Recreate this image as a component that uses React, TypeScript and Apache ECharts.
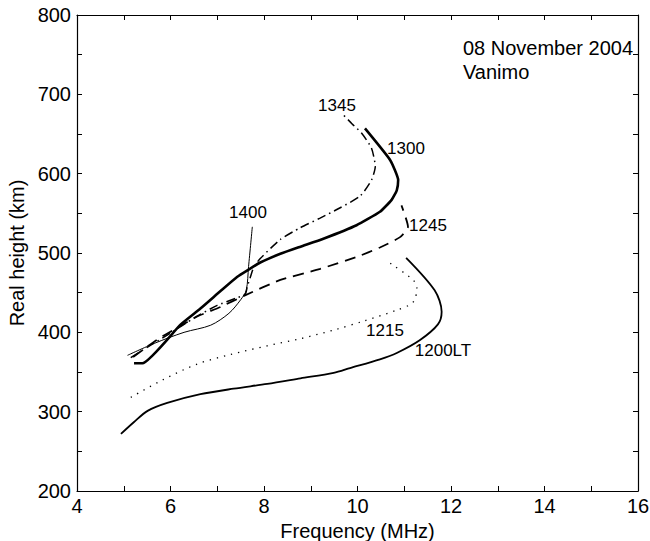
import React, { useEffect, useRef } from "react";
import * as echarts from "echarts";

const s1200: number[][] = [
  [4.94, 272], [5.22, 287], [5.51, 301], [5.93, 311], [6.64, 322], [7.35, 329],
  [8.07, 335], [8.78, 342], [9.49, 349], [9.84, 355], [10.48, 366], [10.84, 374],
  [11.33, 390], [11.72, 410], [11.8, 426], [11.65, 453], [11.04, 494],
];
const s1215: number[][] = [
  [5.15, 318], [5.83, 340], [6.57, 360], [7.28, 372], [8.07, 383], [8.78, 392],
  [9.56, 404], [10.12, 414], [10.84, 428], [11.19, 438], [11.27, 456], [11.19, 466], [10.7, 487],
];
const s1245: number[][] = [
  [5.2, 369], [5.72, 391], [6.15, 406], [6.57, 420], [7.07, 432], [7.57, 446],
  [8.35, 466], [9.2, 480], [9.98, 495], [10.48, 507], [10.91, 520], [11.08, 533], [10.94, 560],
];
const s1300: number[][] = [
  [5.22, 361], [5.4, 361], [6.22, 410], [6.64, 430], [7.07, 452], [7.43, 470],
  [7.67, 479], [7.92, 488], [8.35, 499], [8.78, 508], [9.27, 518], [9.98, 535],
  [10.48, 552], [10.73, 567], [10.84, 579], [10.87, 592], [10.7, 617], [10.16, 657],
];
const s1345: number[][] = [
  [5.15, 368], [5.5, 381], [6.0, 399], [6.5, 418], [7.0, 434], [7.4, 443], [7.6, 448],
  [7.64, 457], [7.71, 470], [7.78, 482], [7.92, 493], [8.35, 517], [8.78, 532],
  [9.2, 544], [9.63, 557], [10.06, 572], [10.3, 592], [10.38, 609], [10.3, 632],
  [10.09, 651], [9.88, 663], [9.7, 674],
];
const s1400: number[][] = [
  [5.08, 371], [5.65, 386], [6.29, 400], [6.86, 409], [7.25, 424], [7.5, 441],
  [7.62, 453], [7.67, 483], [7.75, 533],
];

const curveLabels = [
  { text: "1345", x: 337, y: 105 },
  { text: "1300", x: 406, y: 148 },
  { text: "1245", x: 428, y: 225 },
  { text: "1215", x: 385, y: 330 },
  { text: "1200LT", x: 443, y: 350 },
  { text: "1400", x: 248, y: 212 },
];

export default function App() {
  const ref = useRef<HTMLDivElement>(null);
  useEffect(() => {
    if (!ref.current) return;
    const chart = echarts.init(ref.current, undefined, { renderer: "svg" });
    const font = "Liberation Sans, Arial, Helvetica, sans-serif";
    const line = (data: number[][], width: number, type: any, smooth = 0.3) => ({
      type: "line",
      data,
      showSymbol: false,
      symbol: "none",
      smooth,
      xAxisIndex: 0,
      yAxisIndex: 0,
      lineStyle: { color: "#000", width, type },
      silent: true,
    });
    chart.setOption({
      animation: false,
      textStyle: { fontFamily: font },
      grid: { left: 77, right: 12, top: 15, bottom: 50, containLabel: false, outerBoundsMode: "none" },
      xAxis: [
        {
          type: "value",
          min: 4,
          max: 16,
          interval: 1,
          name: "Frequency (MHz)",
          nameLocation: "middle",
          nameGap: 19,
          nameTextStyle: { fontSize: 20, color: "#000", fontFamily: font },
          axisLine: { lineStyle: { color: "#000", width: 1.2 } },
          axisTick: { inside: true, length: 5, lineStyle: { color: "#000" } },
          axisLabel: {
            fontSize: 20,
            color: "#000",
            margin: 5,
            fontFamily: font,
            formatter: (v: number) => (v % 2 === 0 ? String(v) : ""),
          },
          splitLine: { show: false },
        },
        {
          type: "value",
          position: "top",
          min: 4,
          max: 16,
          interval: 1,
          axisLine: { lineStyle: { color: "#000", width: 1.2 } },
          axisTick: { inside: true, length: 5, lineStyle: { color: "#000" } },
          axisLabel: { show: false },
          splitLine: { show: false },
        },
      ],
      yAxis: [
        {
          type: "value",
          min: 200,
          max: 800,
          interval: 50,
          name: "Real height (km)",
          nameLocation: "middle",
          nameGap: 49,
          nameTextStyle: { fontSize: 20, color: "#000", fontFamily: font },
          axisLine: { lineStyle: { color: "#000", width: 1.2 } },
          axisTick: { inside: true, length: 5, lineStyle: { color: "#000" } },
          axisLabel: {
            fontSize: 20,
            color: "#000",
            margin: 6,
            fontFamily: font,
            formatter: (v: number) => (v % 100 === 0 ? String(v) : ""),
          },
          splitLine: { show: false },
        },
        {
          type: "value",
          position: "right",
          min: 200,
          max: 800,
          interval: 50,
          axisLine: { lineStyle: { color: "#000", width: 1.2 } },
          axisTick: { inside: true, length: 5, lineStyle: { color: "#000" } },
          axisLabel: { show: false },
          splitLine: { show: false },
        },
      ],
      series: [
        line(s1200, 1.8, "solid", 0.3),
        line(s1215, 1.3, [1.3, 6], 0.3),
        line(s1245, 1.8, [11, 7], 0.2),
        line(s1300, 2.6, "solid", 0.15),
        line(s1345, 1.5, [9, 4, 1.5, 4], 0.2),
        line(s1400, 1, "solid", 0.3),
      ],
      graphic: [
        ...curveLabels.map((l) => ({
          type: "text",
          x: l.x,
          y: l.y,
          style: {
            text: l.text,
            fontSize: 17,
            fill: "#000",
            fontFamily: font,
            align: "center",
            verticalAlign: "middle",
          },
        })),
        {
          type: "text",
          x: 633,
          y: 48,
          style: { text: "08 November 2004", fontSize: 20, fill: "#000", fontFamily: font, align: "right", verticalAlign: "middle" },
        },
        {
          type: "text",
          x: 463,
          y: 72,
          style: { text: "Vanimo", fontSize: 20, fill: "#000", fontFamily: font, align: "left", verticalAlign: "middle" },
        },
      ],
    });
    return () => chart.dispose();
  }, []);
  return <div ref={ref} style={{ width: 650, height: 541, position: "fixed", left: 0, top: 0, background: "#fff" }} />;
}
